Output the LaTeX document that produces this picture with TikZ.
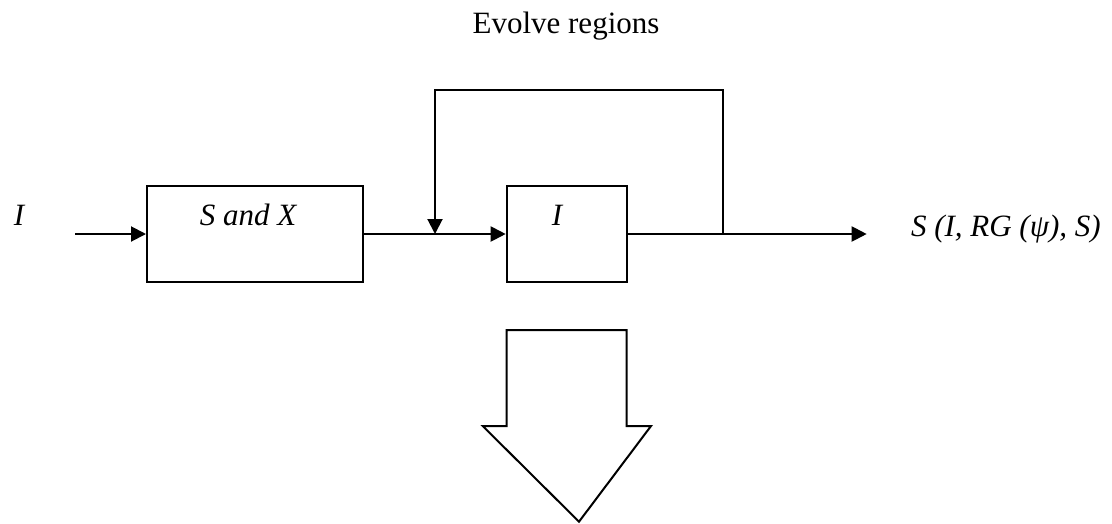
\documentclass[tikz,border=0pt]{standalone}
\usepackage{fontspec}
\setmainfont{Liberation Serif}
\usetikzlibrary{arrows.meta}
\begin{document}
\begin{tikzpicture}[x=1pt,y=-1pt,
  line width=2pt,
  lbl/.style={font=\fontsize{31}{36}\selectfont\itshape, inner sep=0pt, anchor=base},
  ttl/.style={font=\fontsize{31}{36}\selectfont, inner sep=0pt, anchor=base},
  blk/.style={draw, minimum height=96pt, inner sep=0pt},
  arr/.style={-{Triangle[length=15pt,width=15pt]}}]
\useasboundingbox (0,0) rectangle (1112,523);
\node[ttl] (title) at (566,33.3) {Evolve regions};
\node[lbl] (inI) at (19,225) {I};
\node[blk, minimum width=216pt] (box1) at (255,234) {};
\node[lbl] (box1t) at (248,225) {S and X};
\node[blk, minimum width=120pt] (box2) at (566.7,234) {};
\node[lbl] (box2t) at (557,225) {I};
\node[lbl, anchor=base west] (outT) at (910,236.7) {S (I, RG (ψ), S)};
\coordinate (inS) at (75,234);
\coordinate (fbL) at (435,234);
\coordinate (fbR) at (722.7,234);
\coordinate (fbTop) at (580,90);
\coordinate (outE) at (866.7,234);
\draw[arr] (inS) -- (box1.west);
\draw[arr] (box1.east) -- (box2.west);
\draw[arr] (box2.east) -- (outE);
\draw[arr] (fbR) |- (fbTop) -| (fbL);
\draw[line join=miter] (506.7,330) -- (626.7,330) -- (626.7,426) -- (651,426) -- (579,521.7) -- (482.7,426) -- (506.7,426) -- cycle;
\end{tikzpicture}
\end{document}
